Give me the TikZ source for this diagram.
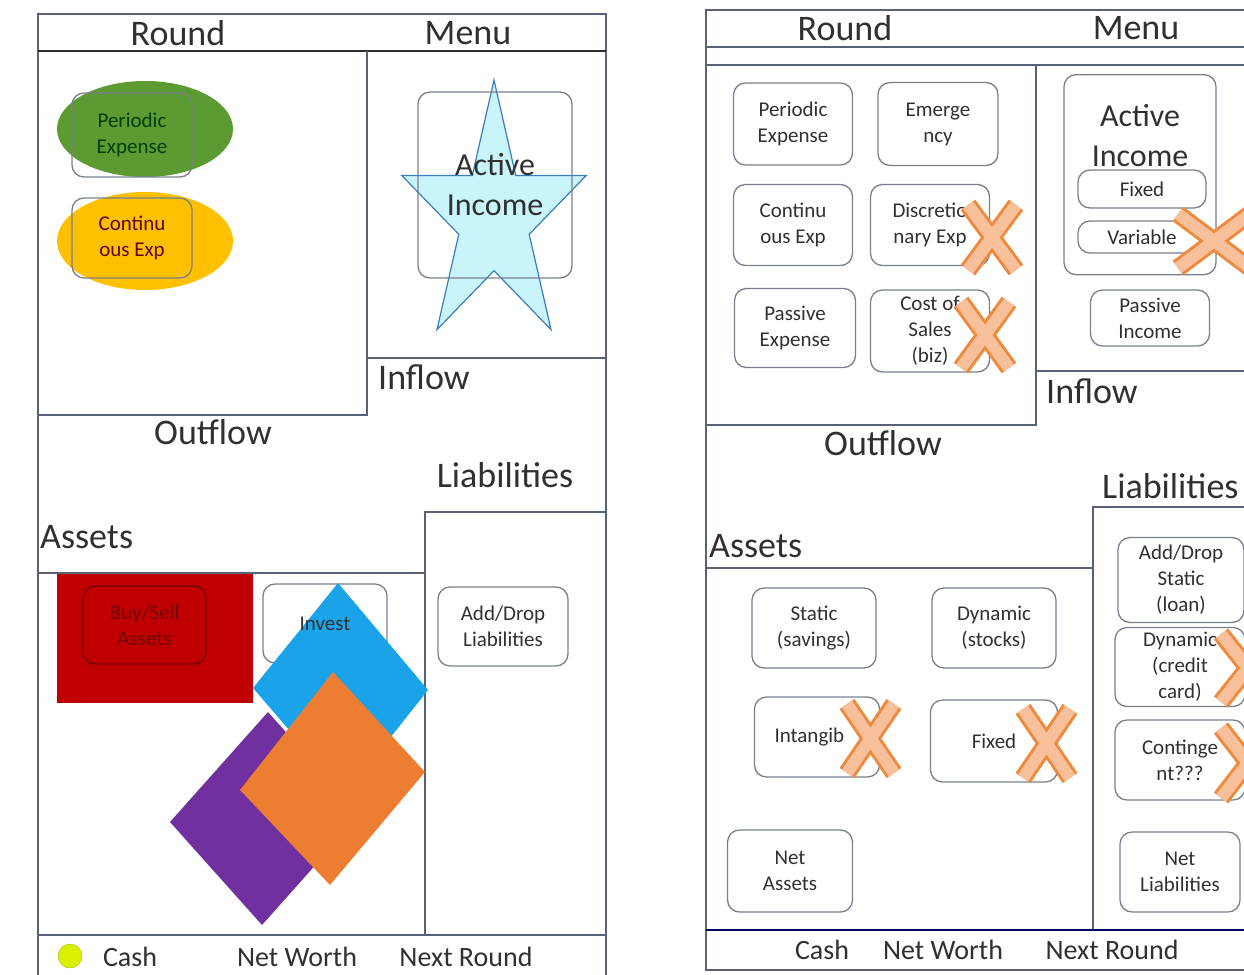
\documentclass[tikz,border=0pt]{standalone}
\usepackage{fontspec}
\setmainfont{Carlito}
\usetikzlibrary{shapes.geometric}
\newcommand\headfont{\fontsize{36}{40}\selectfont}
\newcommand\midfont{\fontsize{32}{40}\selectfont}
\newcommand\footfont{\fontsize{28}{32}\selectfont}
\newcommand\boxfont{\fontsize{21}{26}\selectfont}
\definecolor{frameline}{HTML}{5A6078}
\definecolor{boxline}{HTML}{7A7F8C}
\definecolor{boxtext}{HTML}{303030}
\definecolor{greenfill}{HTML}{5B9B32}
\definecolor{goldfill}{HTML}{FFC000}
\definecolor{redfill}{HTML}{C00000}
\definecolor{bluefill}{HTML}{1AA3E8}
\definecolor{purplefill}{HTML}{7030A0}
\definecolor{orangefill}{HTML}{ED7D31}
\definecolor{starfill}{HTML}{C8F4FA}
\definecolor{starline}{HTML}{3A7CC0}
\definecolor{xline}{HTML}{EE8A3E}
\definecolor{xfill}{HTML}{F8C09A}
\definecolor{cashfill}{HTML}{D8F000}
\newcommand\crossmark[4]{%
  \draw[xout] (#1,#2) -- (#3,#4) (#3,#2) -- (#1,#4);
  \draw[xin] (#1,#2) -- (#3,#4) (#3,#2) -- (#1,#4);}
\begin{document}
\begin{tikzpicture}[x=1pt,y=-1pt,
  frame/.style={draw=frameline,line width=1.3},
  box/.style 2 args={draw=boxline,rounded corners=12,line width=1.3,align=center,
    font=\boxfont,text=boxtext,inner sep=0,minimum width=#1,minimum height=#2},
  blob/.style={ellipse,fill=#1,inner sep=0},
  head/.style={font=\headfont,text=boxtext,inner sep=0},
  foot/.style={font=\footfont,text=boxtext,inner sep=0},
  xout/.style={draw=xline,line width=18},
  xin/.style={draw=xfill,line width=12}]
\useasboundingbox (0,0) rectangle (1244,974);
\clip (0,0) rectangle (1244,974);

% left panel
\draw[frame] (38,14) rectangle (606,990);
\draw[draw=boxtext,line width=2] (38,51) -- (606,51);
\draw[frame] (367,51) -- (367,415) -- (38,415);
\draw[frame] (367,358) -- (606,358);
\draw[frame] (425,935) -- (425,512) -- (606,512);
\draw[frame] (38,573) -- (425,573);
\draw[frame] (38,935) -- (606,935);

\node[head] (roundL) at (178,33) {Round};
\node[head] (menuL) at (468,33) {Menu};
\node[head,anchor=west] (inflowL) at (378,377) {Inflow};
\node[head] (outflowL) at (213,432) {Outflow};
\node[head] (liabL) at (505,475) {Liabilities};
\node[head,anchor=west] (assetsL) at (40,537) {Assets};

\node[blob=greenfill,minimum width=176,minimum height=96] (peBlob) at (145,129) {};
\node[box={120}{84},text=green!25!black] (pe1) at (132,135) {Periodic\\Expense};
\node[blob=goldfill,minimum width=176,minimum height=98] (ceBlob) at (145,241) {};
\node[box={120}{80},text=red!40!black] (ce1) at (132,238) {Continu\\ous Exp};

\fill[starfill,draw=starline,line width=1.2] (494,80) -- (472.3,175.4) -- (401.7,175.4)
  -- (458.8,234.3) -- (437,329.6) -- (494,270.7) -- (551,329.6) -- (529.2,234.3)
  -- (586.3,175.4) -- (515.7,175.4) -- cycle;
\node[box={154}{186},font=\midfont,text=boxtext] (ai1) at (495,185) {Active\\Income};

\fill[redfill] (57,574) rectangle (253,703);
\node[box={123}{78},draw=red!45!black,text=red!45!black] (bs1) at (144.5,625) {Buy/Sell\\Assets};
\node[box={124}{79}] (iv1) at (325,623.5) {};
\fill[bluefill] (338,583) -- (428,690) -- (345,795) -- (253,688) -- cycle;
\node[font=\boxfont,text=boxtext] (ivText) at (iv1) {Invest};
\fill[purplefill] (170,822) -- (268,712) -- (360,815) -- (262,925) -- cycle;
\fill[orangefill] (333,672) -- (425,772) -- (330,885) -- (240,790) -- cycle;
\node[box={130}{79}] (ad1) at (503,626.5) {Add/Drop\\Liabilities};

\node[circle,fill=cashfill,draw=cashfill!80!black,minimum size=24,inner sep=0] (cashDot) at (70,956) {};
\node[foot] (cashL) at (130,957) {Cash};
\node[foot] (worthL) at (297,957) {Net Worth};
\node[foot] (nextL) at (466,957) {Next Round};

% right panel
\draw[frame] (706,10) rectangle (1264,970);
\draw[frame] (706,47) -- (1264,47);
\draw[frame] (706,65) -- (1264,65);
\draw[frame] (1036,65) -- (1036,425) -- (706,425);
\draw[frame] (1036,371) -- (1264,371);
\draw[frame] (1093,930) -- (1093,507) -- (1264,507);
\draw[frame] (706,568) -- (1093,568);
\draw[draw=blue!40!black,line width=1.6] (706,930) -- (1264,930);

\node[head] (roundR) at (845,28) {Round};
\node[head] (menuR) at (1136,28) {Menu};
\node[head,anchor=west] (inflowR) at (1046,391) {Inflow};
\node[head] (outflowR) at (883,443) {Outflow};
\node[head,anchor=west] (liabR) at (1102,486) {Liabilities};
\node[head,anchor=west] (assetsR) at (709,546) {Assets};

\node[box={119}{82}] (pe2) at (793,124) {Periodic\\Expense};
\node[box={120}{83}] (em2) at (938,124) {Emerge\\ncy};
\node[box={119}{81}] (ce2) at (793,225) {Continu\\ous Exp};
\node[box={119}{81}] (de2) at (930,225) {Discretio\\nary Exp};
\node[box={121}{79}] (pa2) at (795,328) {Passive\\Expense};
\node[box={119}{82}] (cs2) at (930,331) {Cost of\\Sales\\(biz)};

\node[box={152}{200},anchor=north] (ai2) at (1140,74) {};
\node[font=\midfont,text=boxtext,align=center,inner sep=0] (aiText) at (1140,136) {Active\\Income};
\node[box={128}{38},fill=white] (fx2) at (1142,189) {Fixed};
\node[box={128}{32},fill=white] (va2) at (1142,237) {Variable};
\node[box={119}{56}] (pi2) at (1150,318) {Passive\\Income};

\node[box={124}{80}] (st2) at (814,628) {Static\\(savings)};
\node[box={124}{80}] (dy2) at (994,628) {Dynamic\\(stocks)};
\node[box={125}{80}] (in2) at (817,737) {Intangib\phantom{le}};
\node[box={127}{82}] (fa2) at (994,741) {Fixed};
\node[box={125}{82}] (na2) at (790,871) {Net\\Assets};

\node[box={126}{85}] (ad2) at (1181,580) {Add/Drop\\Static\\(loan)};
\node[box={130}{79}] (dl2) at (1180,667) {Dynamic\\(credit\\card)};
\node[box={130}{80}] (cg2) at (1180,760) {Continge\\nt???};
\node[box={120}{80}] (nl2) at (1180,872) {Net\\Liabilities};

\crossmark{968}{205}{1016}{270}
\crossmark{961}{302}{1009}{368}
\crossmark{1178}{214}{1250}{268}
\crossmark{847}{704}{894}{773}
\crossmark{1023}{709}{1070}{778}
\crossmark{1221}{634}{1275}{702}
\crossmark{1221}{728}{1275}{798}

\node[foot] (cashR) at (822,950) {Cash};
\node[foot] (worthR) at (943,950) {Net Worth};
\node[foot] (nextR) at (1112,950) {Next Round};
\end{tikzpicture}
\end{document}
